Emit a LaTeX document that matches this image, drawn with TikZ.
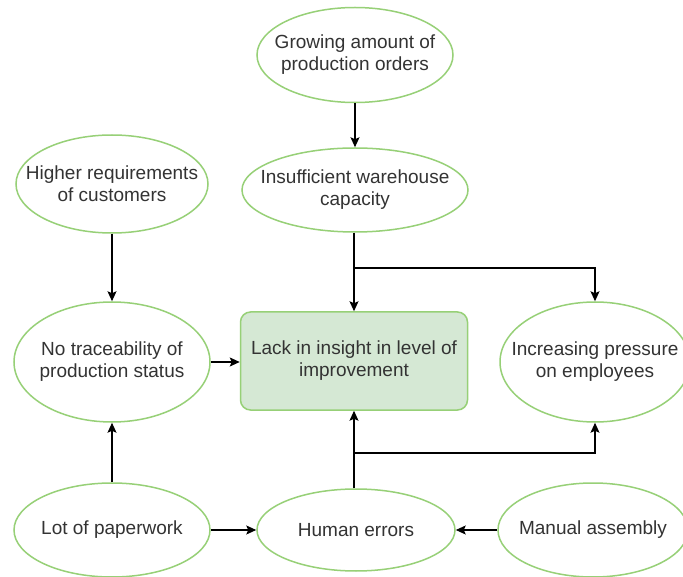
\documentclass[tikz,border=0pt]{standalone}
\usepackage{fontspec}
\setmainfont{Liberation Sans}
\usetikzlibrary{shapes.geometric,arrows.meta}
\definecolor{gstroke}{HTML}{97D077}
\definecolor{gfill}{HTML}{D5E8D4}
\definecolor{txt}{HTML}{333333}
\tikzset{
  ell/.style={ellipse, draw=gstroke, line width=1.5pt, fill=white, inner xsep=-60pt, inner ysep=-30pt, align=center, text=txt,
    font=\fontsize{19}{22}\selectfont},
  mainbox/.style={rectangle, rounded corners=10pt, draw=gstroke, line width=1.5pt, fill=gfill, inner sep=0pt,
    align=center, text=txt, font=\fontsize{19}{22}\selectfont, minimum width=227pt, minimum height=98pt},
  conn/.style={line width=1.3pt, -{Stealth[length=10pt,width=9pt,inset=2pt]}},
  plain/.style={line width=1.3pt}
}
\begin{document}
\begin{tikzpicture}[x=1pt,y=-1pt]
\useasboundingbox[fill=white] (0,0) rectangle (683,577);
\node[ell, minimum width=196pt, minimum height=95pt] (grow) at (355,55) {Growing amount of\\production orders};
\node[ell, minimum width=226pt, minimum height=84pt] (insuf) at (355,190) {Insufficient warehouse\\capacity};
\node[ell, minimum width=192pt, minimum height=98pt] (higher) at (112,184) {Higher requirements\\of customers};
\node[ell, minimum width=196pt, minimum height=120pt] (notrace) at (112,362) {No traceability of\\production status};
\node[mainbox] (lack) at (354,361) {Lack in insight in level of\\improvement};
\node[ell, minimum width=190pt, minimum height=120pt] (press) at (595,362) {Increasing pressure\\on employees};
\node[ell, minimum width=196pt, minimum height=94pt] (lot) at (112,530) {Lot of paperwork};
\node[ell, minimum width=198pt, minimum height=82pt] (human) at (356,530) {Human errors};
\node[ell, minimum width=190pt, minimum height=94pt] (manual) at (593,530) {Manual assembly};

\draw[conn] (grow.south) -- (insuf.north);
\draw[conn] (higher.south) -- (notrace.north);
\draw[conn] (insuf.south -| lack.north) -- (lack.north);
\coordinate (b1) at (354,268);
\draw[conn] (b1) -| (press.north);
\draw[conn] (notrace.east) -- (notrace.east -| lack.west);
\draw[conn] (human.north -| lack.south) -- (lack.south);
\coordinate (b2) at (354,453);
\draw[conn] (b2) -| (press.south);
\draw[conn] (lot.north) -- (notrace.south);
\draw[conn] (lot.east) -- (human.west);
\draw[conn] (manual.west) -- (human.east);
\end{tikzpicture}
\end{document}
